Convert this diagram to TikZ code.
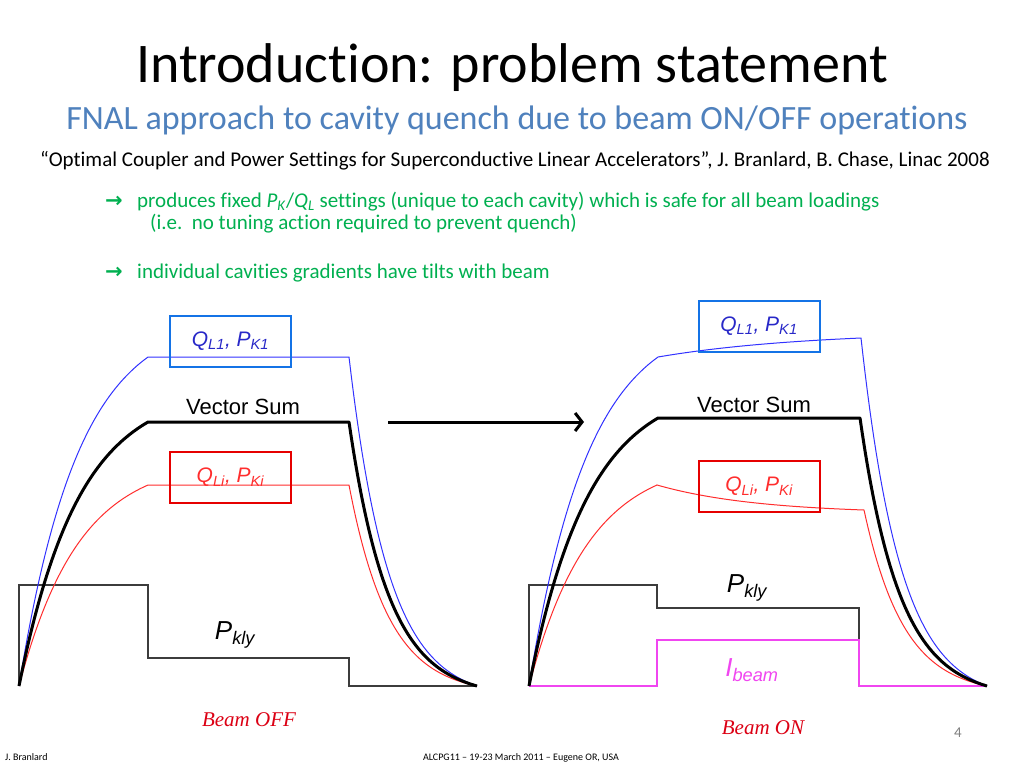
\documentclass[tikz,border=0pt]{standalone}
\usepackage{fontspec}
\setmainfont{Carlito}[Ligatures={TeX,NoCommon}]
\newfontfamily\arialf{Liberation Sans}
\newfontfamily\timesf{Liberation Serif}
\newfontfamily\symf{DejaVu Sans}
\usetikzlibrary{arrows.meta,positioning}
\definecolor{subblue}{RGB}{79,129,189}
\definecolor{bulgreen}{RGB}{0,176,80}
\definecolor{curveblue}{RGB}{50,50,255}
\definecolor{boxblue}{RGB}{20,115,230}
\definecolor{textblue}{RGB}{40,40,200}
\definecolor{curvered}{RGB}{255,45,45}
\definecolor{boxred}{RGB}{230,0,0}
\definecolor{beammag}{RGB}{240,70,240}
\definecolor{beamred}{RGB}{220,0,20}
\definecolor{klygray}{RGB}{60,60,60}

\begin{document}
\begin{tikzpicture}[x=1pt,y=-1pt]
  \tikzstyle{qbox} = [draw, line width=2pt, minimum width=121pt, minimum height=51pt, inner sep=0pt, font=\arialf\itshape\fontsize{21}{24}\selectfont]
  \tikzstyle{plabel} = [inner sep=0pt, font=\arialf\fontsize{22}{24}\selectfont]
  \tikzstyle{klabel} = [inner sep=0pt, font=\arialf\itshape\fontsize{26}{28}\selectfont]
  \tikzstyle{beamlab} = [inner sep=0pt, text=beamred, font=\timesf\itshape\fontsize{21}{24}\selectfont]
  \tikzstyle{bullet} = [anchor=base west, inner sep=0pt, text=bulgreen, font=\fontsize{21}{24}\selectfont]
  \tikzstyle{bluetrace} = [curveblue, line width=1pt, samples=60]
  \tikzstyle{redtrace} = [curvered, line width=1pt, samples=60]
  \tikzstyle{sumtrace} = [black, line width=3pt, line join=round, samples=60]
  \tikzstyle{klyline} = [klygray, line width=1.2pt]
  \fill[white] (0,0) rectangle (1024,768);
  \useasboundingbox (0,0) rectangle (1024,768);

  % header
  \node[anchor=base, inner sep=0pt, font=\fontsize{56}{60}\selectfont] (title) at (512,82) {Introduction: problem statement};
  \node[anchor=base, inner sep=0pt, text=subblue, font=\fontsize{34}{38}\selectfont] (subtitle) at (517,129) {FNAL approach to cavity quench due to beam ON/OFF operations};
  \node[anchor=base, inner sep=0pt, font=\fontsize{21}{24}\selectfont] (cite) at (515,166) {``Optimal Coupler and Power Settings for Superconductive Linear Accelerators'', J. Branlard, B. Chase, Linac 2008};
  \node[bullet, font=\symf\bfseries\fontsize{21}{22}\selectfont] (arrA) at (105,207) {→};
  \node[bullet] (bulA) at (137,207) {produces fixed \textit{P}\textsubscript{\textit{K}}/\textit{Q}\textsubscript{\textit{L}} settings (unique to each cavity) which is safe for all beam loadings};
  \node[bullet] (bulA2) at (150,229) {(i.e.\ \ no tuning action required to prevent quench)};
  \node[bullet, font=\symf\bfseries\fontsize{21}{22}\selectfont] (arrB) at (105,278) {→};
  \node[bullet] (bulB) at (137,278) {individual cavities gradients have tilts with beam};

  % beam off
  \draw[klyline] (19,686) -- (19,585) -- (148,585) -- (148,658) -- (349,658) -- (349,686) -- (477,686);
  \foreach \h/\st in {201/redtrace, 329/bluetrace, 264/sumtrace}
    \draw[\st] plot[domain=0:129] ({19+\x},{686-\h*(1-exp(-\x/60))/(1-exp(-129/60))}) -- (349,{686-\h})
      -- plot[domain=0:128] ({349+\x},{686-\h+\h*(1-exp(-\x/40))/(1-exp(-128/40))});
  \node[qbox, draw=boxblue, text=textblue] (qlA) at (230.5,341) {Q\textsubscript{L1}, P\textsubscript{K1}};
  \node[qbox, draw=boxred, text=curvered] (qliA) at (230.5,477.5) {Q\textsubscript{Li}, P\textsubscript{Ki}};
  \node[plabel] (vsumA) at (243,407) {Vector Sum};
  \node[klabel] (pklyA) at (235,635) {P\textsubscript{kly}};
  \node[beamlab] (beamoff) at (249,720) {Beam OFF};

  % arrow
  \coordinate (arrS) at (388,422);
  \coordinate (arrE) at (584,422);
  \draw[line width=3pt, -{Straight Barb[length=7pt,width=18pt]}] (arrS) -- (arrE);

  % beam on
  \draw[klyline] (529,686) -- (529,585) -- (657,585) -- (657,608) -- (859,608) -- (859,640);
  \draw[beammag, line width=1.5pt] (529,686) -- (657,686) -- (657,640) -- (859,640) -- (859,686) -- (987,686);
  \draw[redtrace] plot[domain=0:128] ({529+\x},{686-201*(1-exp(-\x/60))/(1-exp(-128/60))})
    -- plot[domain=0:207] ({657+\x},{485+25*(1-exp(-\x/100))/(1-exp(-207/100))})
    -- plot[domain=0:123] ({864+\x},{510+176*(1-exp(-\x/40))/(1-exp(-123/40))});
  \draw[bluetrace] plot[domain=0:129] ({529+\x},{686-329*(1-exp(-\x/60))/(1-exp(-129/60))})
    -- plot[domain=0:203] ({658+\x},{357-19*(1-exp(-\x/150))/(1-exp(-203/150))})
    -- plot[domain=0:126] ({861+\x},{338+348*(1-exp(-\x/40))/(1-exp(-126/40))});
  \draw[sumtrace] plot[domain=0:129] ({529+\x},{686-268*(1-exp(-\x/60))/(1-exp(-129/60))}) -- (860,418)
    -- plot[domain=0:127] ({860+\x},{418+268*(1-exp(-\x/40))/(1-exp(-127/40))});
  \node[qbox, draw=boxblue, text=textblue] (qlB) at (759,326.5) {Q\textsubscript{L1}, P\textsubscript{K1}};
  \node[qbox, draw=boxred, text=curvered] (qliB) at (759,486.5) {Q\textsubscript{Li}, P\textsubscript{Ki}};
  \node[plabel] (vsumB) at (754,405) {Vector Sum};
  \node[klabel] (pklyB) at (747,588) {P\textsubscript{kly}};
  \node[klabel, text=beammag] (ibeam) at (752,670) {I\textsubscript{beam}};
  \node[beamlab] (beamon) at (763,728) {Beam ON};

  % footer
  \node[inner sep=0pt, text=gray, font=\fontsize{15}{16}\selectfont] (pagenum) at (958,733) {4};
  \node[anchor=base west, inner sep=0pt, font=\fontsize{10}{11}\selectfont] (author) at (5,760) {J. Branlard};
  \node[anchor=base, inner sep=0pt, font=\fontsize{10}{11}\selectfont] (conf) at (521,760) {ALCPG11 -- 19-23 March 2011 -- Eugene OR, USA};
\end{tikzpicture}
\end{document}
